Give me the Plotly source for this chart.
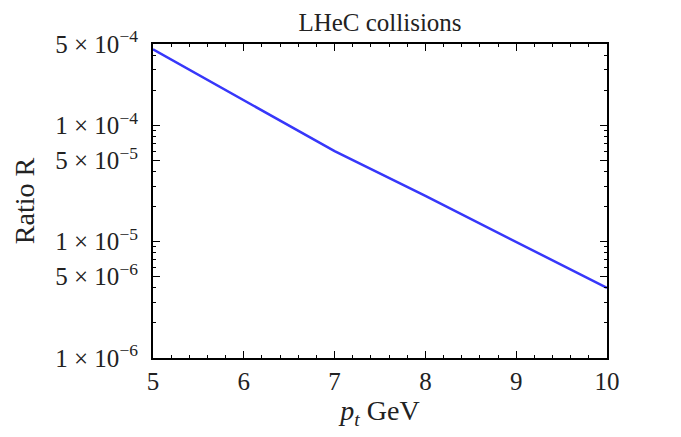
import math
import plotly.graph_objects as go

# data
pt = [5, 6, 7, 8, 9, 10]
ratio = [4.5e-4, 1.65e-4, 6.0e-5, 2.47e-5, 1.0e-5, 4.0e-6]

y_tickvals = [5e-4, 1e-4, 5e-5, 1e-5, 5e-6, 1e-6]
y_ticktext = ["5 × 10<sup>−4</sup>", "1 × 10<sup>−4</sup>", "5 × 10<sup>−5</sup>",
              "1 × 10<sup>−5</sup>", "5 × 10<sup>−6</sup>", "1 × 10<sup>−6</sup>"]

ymin, ymax = 1e-6, 5e-4
y_minor = [m * 10 ** e for e in (-6, -5, -4) for m in range(2, 10)
           if ymin <= m * 10 ** e <= ymax]

font = "Liberation Serif"

fig = go.Figure()
fig.add_trace(
    go.Scatter(
        x=pt,
        y=ratio,
        mode="lines",
        line=dict(color="rgb(55, 55, 250)", width=2.5),
        showlegend=False,
    )
)

axis_common = dict(
    automargin=False,
    showgrid=False,
    zeroline=False,
    showline=True,
    linecolor="black",
    linewidth=2,
    mirror="ticks",
    ticks="inside",
    ticklen=7,
    tickwidth=1.2,
    tickcolor="black",
    tickfont=dict(family=font, size=25, color="#222"),
)

fig.update_layout(
    width=681,
    height=437,
    paper_bgcolor="white",
    plot_bgcolor="white",
    margin=dict(l=153, r=74, t=44, b=79),
    title=dict(
        text="LHeC collisions",
        x=0.5,
        xref="paper",
        xanchor="center",
        y=0.95,
        yanchor="middle",
        font=dict(family=font, size=25, color="#222"),
    ),
    xaxis=dict(
        range=[5, 10],
        tickvals=[5, 6, 7, 8, 9, 10],
        title=dict(text="<i>p<sub>t</sub></i> GeV",
                   font=dict(family=font, size=28, color="#222"), standoff=2),
        minor=dict(ticks="inside", ticklen=3, tickcolor="black", dtick=0.2, tick0=5,
                   showgrid=False),
        **axis_common,
    ),
    yaxis=dict(
        type="log",
        range=[math.log10(ymin), math.log10(ymax)],
        tickvals=y_tickvals,
        ticktext=y_ticktext,
        ticklabelstandoff=8,
        title=dict(text="Ratio R", font=dict(family=font, size=28, color="#222"),
                   standoff=12),
        minor=dict(ticks="inside", ticklen=3, tickcolor="black",
                   tickmode="array", tickvals=y_minor, showgrid=False),
        **axis_common,
    ),
)

# drop the browser's default body margin so the figure sits at the page corner
fig.write_html(
    "out.html",
    config={"displayModeBar": False},
    post_script="document.body.style.margin = '0';",
)
